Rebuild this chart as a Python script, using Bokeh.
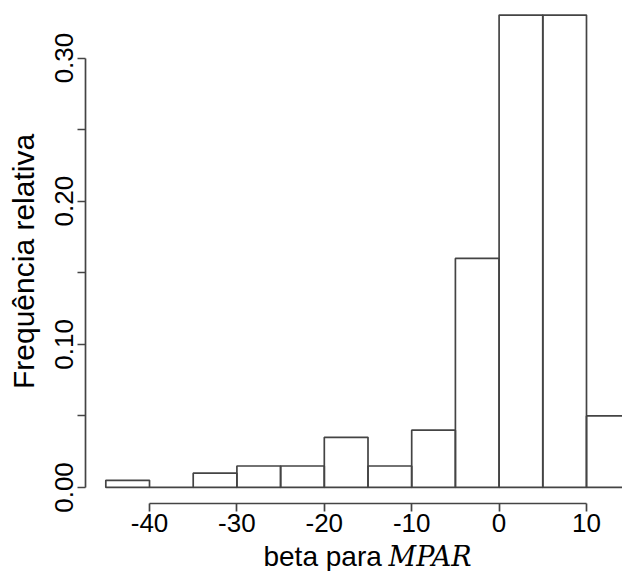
import math
from bokeh.plotting import figure
from bokeh.models import FixedTicker, Label, Range1d
from bokeh.embed import file_html
from bokeh.resources import INLINE

# ---- data ----
bin_left = [-45, -40, -35, -30, -25, -20, -15, -10, -5, 0, 5, 10]
bin_right = [-40, -35, -30, -25, -20, -15, -10, -5, 0, 5, 10, 15]
rel_freq = [0.005, 0.0, 0.010, 0.015, 0.015, 0.035, 0.015, 0.040, 0.160, 0.330, 0.330, 0.050]

x_ticks = [-40, -30, -20, -10, 0, 10]
x_tick_labels = ["-40", "-30", "-20", "-10", "0", "10"]
y_ticks = [0.0, 0.05, 0.10, 0.15, 0.20, 0.25, 0.30]
y_tick_labels = ["0.00", "", "0.10", "", "0.20", "", "0.30"]

x_label_text = "beta para"
x_label_math = "MPAR"
y_label_text = "Frequência relativa"

LINE = "#444444"
SANS = "Liberation Sans"

# R-style plot region: x -47.32 .. (cropped), y -0.0112 .. (cropped)
X_AXIS_AT = -0.0112
Y_AXIS_AT = -47.32

p = figure(width=622, height=571, output_backend="svg", toolbar_location=None,
           x_range=Range1d(-57.05, 14.12), y_range=Range1d(-0.0587, 0.3402),
           min_border=0)
p.outline_line_color = None
p.xgrid.visible = False
p.ygrid.visible = False
p.background_fill_color = "white"
p.border_fill_color = "white"

p.quad(left=bin_left, right=bin_right, bottom=0, top=rel_freq,
       fill_color=None, line_color=LINE, line_width=1.7)

for ax, ticks, labels, bnds, loc in ((p.xaxis[0], x_ticks, x_tick_labels, (-40, 10), X_AXIS_AT),
                                     (p.yaxis[0], y_ticks, y_tick_labels, (0, 0.30), Y_AXIS_AT)):
    ax.fixed_location = loc
    ax.ticker = FixedTicker(ticks=ticks)
    ax.major_label_overrides = {t: l for t, l in zip(ticks, labels)}
    ax.bounds = bnds
    ax.axis_line_color = LINE
    ax.axis_line_width = 1.7
    ax.major_tick_line_color = LINE
    ax.major_tick_line_width = 1.7
    ax.major_tick_out = 8
    ax.major_tick_in = 0
    ax.minor_tick_out = 0
    ax.minor_tick_in = 0
    ax.major_label_text_font = SANS
    ax.major_label_text_font_size = "26px"
    ax.major_label_text_color = "black"

p.xaxis.major_label_standoff = 2
p.yaxis.major_label_standoff = 5
p.yaxis.major_label_orientation = "vertical"

# axis titles (R style: sans text plus italic math symbol)
p.add_layout(Label(x=-26.96, y=-0.0484, text=x_label_text, text_font=SANS,
                   text_font_size="28px", text_color="black",
                   text_align="left", text_baseline="alphabetic"))
p.add_layout(Label(x=-12.65, y=-0.0484, text=x_label_math, text_font="DejaVu Serif",
                   text_font_style="italic", text_font_size="27px", text_color="black",
                   text_align="left", text_baseline="alphabetic"))
p.add_layout(Label(x=-54.42, y=0.1579, text=y_label_text, text_font=SANS,
                   text_font_size="30px", text_color="black", angle=math.pi / 2,
                   text_align="center", text_baseline="alphabetic"))

open("out.html", "w").write(file_html(p, INLINE))
